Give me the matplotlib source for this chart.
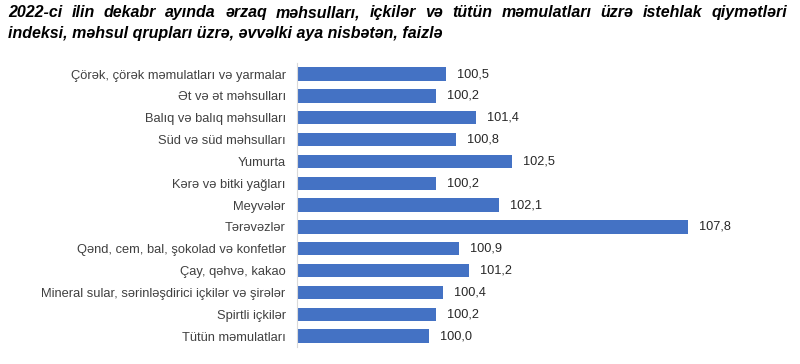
import matplotlib
matplotlib.use("Agg")
from matplotlib import pyplot as plt

categories = [
    "Çörək, çörək məmulatları və yarmalar",
    "Ət və ət məhsulları",
    "Balıq və balıq məhsulları",
    "Süd və süd məhsulları",
    "Yumurta",
    "Kərə və bitki yağları",
    "Meyvələr",
    "Tərəvəzlər",
    "Qənd, cem, bal, şokolad və konfetlər",
    "Çay, qəhvə, kakao",
    "Mineral sular, sərinləşdirici içkilər və şirələr",
    "Spirtli içkilər",
    "Tütün məmulatları",
]
values = [100.5, 100.2, 101.4, 100.8, 102.5, 100.2, 102.1, 107.8, 100.9, 101.2, 100.4, 100.2, 100.0]
value_labels = ["100,5", "100,2", "101,4", "100,8", "102,5", "100,2", "102,1",
                "107,8", "100,9", "101,2", "100,4", "100,2", "100,0"]
title_line1 = "2022-ci ilin dekabr ayında ərzaq məhsulları, içkilər və tütün məmulatları üzrə istehlak qiymətləri"
title_line2 = "indeksi, məhsul qrupları üzrə, əvvəlki aya nisbətən, faizlə"

plt.rcParams['font.family'] = ['Liberation Sans', 'DejaVu Sans']

fig = plt.figure(figsize=(8, 3.64), dpi=100)
ax = fig.add_axes([0.371, 0.0467, 0.58, 0.78])

base = 96
pos = list(range(len(categories)))
ax.barh(pos, [v - base for v in values], left=base, height=0.61, color="#4472C4")
ax.set_xlim(base, 110)
ax.set_ylim(len(categories) - 0.5, -0.5)

for p, v, lab in zip(pos, values, value_labels):
    ax.annotate(lab, (v, p), xytext=(8, 0), textcoords="offset points",
                va="center", ha="left", fontsize=9.2, color="#262626")

ax.set_yticks(pos)
ax.set_yticklabels(categories, fontsize=9.3, color="#404040")
ax.tick_params(axis="y", length=0, pad=8)
ax.set_xticks([])
for s in ["top", "right", "bottom"]:
    ax.spines[s].set_visible(False)
ax.spines["left"].set_color("#d9d9d9")

# title: first line justified across the width, second line left aligned
tkw = dict(fontsize=11.5, fontweight="bold", fontstyle="italic", va="center", ha="left", color="black")
x0, x1 = 8 / 800, 787 / 800
words = title_line1.split(" ")
renderer = fig.canvas.get_renderer()
arts = [fig.text(0, 0.965, w, **tkw) for w in words]
widths = [a.get_window_extent(renderer).width / fig.bbox.width for a in arts]
gap = (x1 - x0 - sum(widths)) / (len(words) - 1)
x = x0
for a, w in zip(arts, widths):
    a.set_x(x)
    x += w + gap
fig.text(x0, 0.907, title_line2, **tkw)

fig.savefig("out.png", dpi=100)
